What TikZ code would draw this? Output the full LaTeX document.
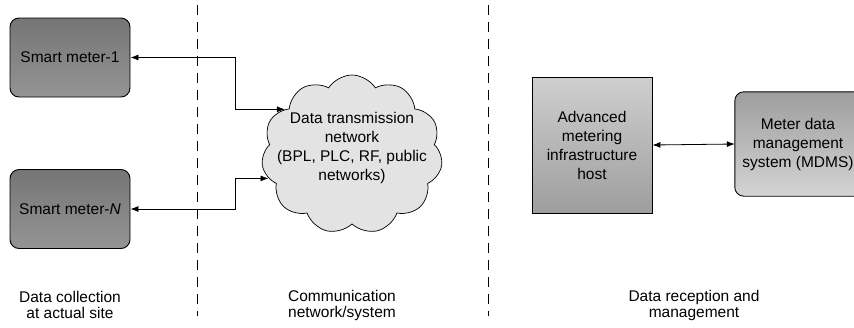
\documentclass[tikz,border=0pt]{standalone}
\usepackage{fontspec}
\setmainfont{Liberation Sans}
\usetikzlibrary{arrows.meta,shapes.symbols}

\definecolor{meterdark}{gray}{0.46}
\definecolor{meterlight}{gray}{0.58}
\definecolor{hostlight}{gray}{0.81}
\definecolor{hostdark}{gray}{0.62}
\definecolor{mdmsdark}{gray}{0.62}
\definecolor{mdmslight}{gray}{0.83}
\definecolor{cloudgray}{gray}{0.89}

\tikzset{
	meterbox/.style={draw,line width=0.9pt,rounded corners=9pt,minimum width=120pt,minimum height=79pt,
		top color=meterdark,bottom color=meterlight},
	hostbox/.style={draw,line width=0.9pt,minimum width=120pt,minimum height=136pt,align=center,
		top color=hostlight,bottom color=hostdark},
	mdmsbox/.style={rounded corners=9pt,minimum width=126pt,minimum height=104pt,align=center,
		top color=mdmsdark,bottom color=mdmslight},
	netcloud/.style={draw,line width=0.7pt,cloud,cloud puffs=11,cloud puff arc=115,fill=cloudgray,
		minimum width=181pt,minimum height=159pt,inner sep=0pt},
	link/.style={{Latex[length=8pt,width=6pt]}-{Latex[length=8pt,width=6pt]},line width=0.8pt},
	divider/.style={line width=0.8pt,dash pattern=on 10pt off 7pt},
	caption/.style={align=center,font=\fontsize{15.5}{16}\selectfont}
}

\begin{document}
\begin{tikzpicture}[x=1pt,y=-1pt,font=\fontsize{15.5}{19}\selectfont]
	\useasboundingbox (0,0) rectangle (854,327);

	% site / network / head-end separators
	\draw[divider] (197,5) -- (197,316);
	\draw[divider] (488,5) -- (488,316);

	% meters
	\node[meterbox] (meter1) at (70,57.5) {Smart meter-1};
	\node[meterbox] (meterN) at (70,209) {Smart meter-\textit{N}};

	% communication cloud
	\node[netcloud] (net) at (352,154.5) {};
	\node[align=center] (nettext) at (352,148) {Data transmission\\network\\(BPL, PLC, RF, public\\networks)};

	% head end, the MDMS box is cut by the right edge
	\node[hostbox] (amihost) at (592,145) {Advanced\\metering\\infrastructure\\host};
	\node[mdmsbox] (mdms) at (798,144) {Meter data\\management\\system (MDMS)};
	\draw[line width=0.9pt,rounded corners=9pt] (mdms.north east) ++(12,0) -- (mdms.north west)
		-- (mdms.south west) -- ([xshift=12pt]mdms.south east);

	\draw[link] (meter1.east) -- ++(105,0) |- (net.146);
	\draw[link] (meterN.east) -- ++(105,0) |- (net.196);
	\draw[link] (amihost.east) -- (mdms.west);

	% column captions
	\node[caption] (sitecap) at (70,305) {Data collection\\at actual site};
	\node[caption] (netcap) at (342,305) {Communication\\network/system};
	\node[caption] (headcap) at (694,305) {Data reception and\\management};
\end{tikzpicture}
\end{document}
